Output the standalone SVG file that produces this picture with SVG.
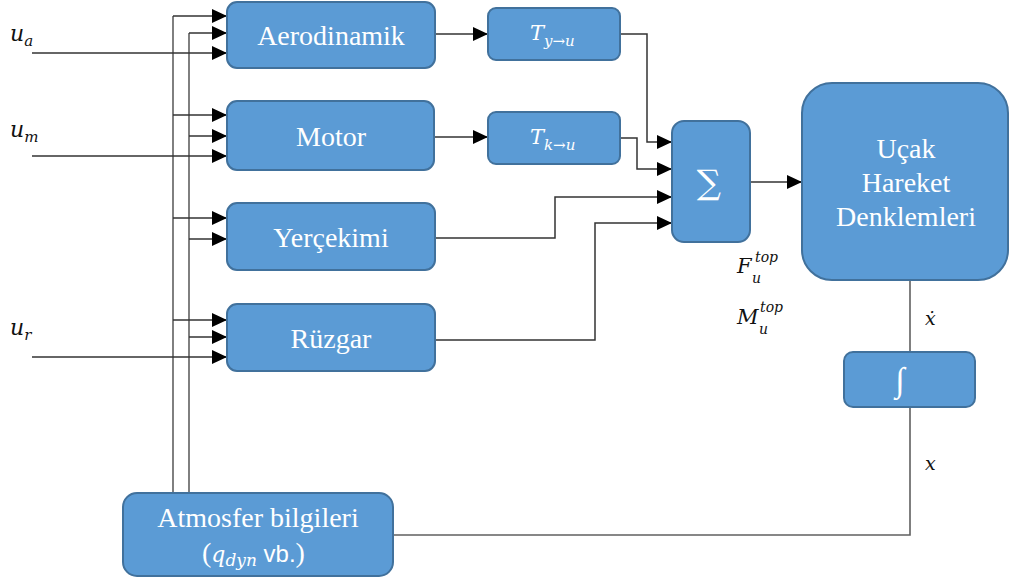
<svg xmlns="http://www.w3.org/2000/svg" width="1009" height="581" viewBox="0 0 1009 581">
<style>
.box{fill:#5B9BD5;stroke:#41719C;stroke-width:2}
.lbl{font-family:"Liberation Serif",serif;font-size:28px;fill:#fff;text-anchor:middle}
.math{font-family:"DejaVu Serif","Liberation Serif",serif;font-style:italic;fill:#111}
.wm{font-family:"DejaVu Serif","Liberation Serif",serif;font-style:italic;fill:#fff}
.ln{fill:none;stroke:#333;stroke-width:1.5}
.gl{fill:none;stroke:#606060;stroke-width:1.6}
</style>
<defs>
<marker id="ah" markerUnits="userSpaceOnUse" markerWidth="15" markerHeight="14" refX="15" refY="7" orient="auto">
<path d="M0,0 L15,7 L0,14 z" fill="#000"/>
</marker>
</defs>
<rect width="1009" height="581" fill="#fff"/>

<g id="connectors">
<path class="gl" d="M173,16 V493"/>
<path class="gl" d="M189,33 V493"/>
<path class="ln" d="M173,16 H227" marker-end="url(#ah)"/>
<path class="ln" d="M189,33 H227" marker-end="url(#ah)"/>
<path class="ln" d="M32,53 H227" marker-end="url(#ah)"/>
<path class="ln" d="M173,115 H227" marker-end="url(#ah)"/>
<path class="ln" d="M189,136 H227" marker-end="url(#ah)"/>
<path class="ln" d="M32,156 H227" marker-end="url(#ah)"/>
<path class="ln" d="M173,218 H227" marker-end="url(#ah)"/>
<path class="ln" d="M189,239 H227" marker-end="url(#ah)"/>
<path class="ln" d="M173,320 H227" marker-end="url(#ah)"/>
<path class="ln" d="M189,337 H227" marker-end="url(#ah)"/>
<path class="ln" d="M32,357 H227" marker-end="url(#ah)"/>
<path class="ln" d="M435,34 H488" marker-end="url(#ah)"/>
<path class="ln" d="M434,137 H488" marker-end="url(#ah)"/>
<path class="ln" d="M620,34 H647 V142 H672" marker-end="url(#ah)"/>
<path class="ln" d="M620,138 H637 V169 H672" marker-end="url(#ah)"/>
<path class="ln" d="M435,238 H555 V197 H672" marker-end="url(#ah)"/>
<path class="ln" d="M435,340 H595 V223 H672" marker-end="url(#ah)"/>
<path class="ln" d="M750,182 H802" marker-end="url(#ah)"/>
<path class="gl" d="M910,280 V352"/>
<path class="gl" d="M910,407 V535 H393"/>
</g>

<g id="aero"><rect class="box" x="227" y="2" width="208" height="66" rx="10"/><text class="lbl" x="331" y="45">Aerodinamik</text></g>
<g id="motor"><rect class="box" x="227" y="101" width="207" height="69" rx="10"/><text class="lbl" x="331" y="146">Motor</text></g>
<g id="yercekimi"><rect class="box" x="227" y="203" width="208" height="67" rx="10"/><text class="lbl" x="331" y="247">Yerçekimi</text></g>
<g id="ruzgar"><rect class="box" x="227" y="304" width="208" height="67" rx="10"/><text class="lbl" x="331" y="348">Rüzgar</text></g>
<g id="ty"><rect class="box" x="488" y="8" width="132" height="52" rx="8"/><text class="wm" x="530" y="40" font-size="21">T<tspan font-size="15" dy="6">y→u</tspan></text></g>
<g id="tk"><rect class="box" x="488" y="112" width="132" height="52" rx="8"/><text class="wm" x="530" y="144" font-size="21">T<tspan font-size="15" dy="6">k→u</tspan></text></g>
<g id="sum"><rect class="box" x="672" y="121" width="78" height="121" rx="12"/><text x="709" y="194" font-family="'DejaVu Serif',serif" font-size="34" fill="#fff" text-anchor="middle">∑</text></g>
<g id="ucak"><rect class="box" x="802" y="83" width="206" height="197" rx="30"/>
<text class="lbl" x="906" y="158">Uçak</text><text class="lbl" x="906" y="192">Hareket</text><text class="lbl" x="906" y="226">Denklemleri</text></g>
<g id="integ"><rect class="box" x="844" y="352" width="131" height="55" rx="9"/><text x="900" y="391" font-family="'Liberation Serif',serif" font-size="34" fill="#fff" text-anchor="middle">∫</text></g>
<g id="atmosfer"><rect class="box" x="123" y="493" width="270" height="83" rx="14"/>
<text class="lbl" x="258" y="527">Atmosfer bilgileri</text>
<text x="202" y="562" font-size="28" fill="#fff" font-family="'Liberation Serif',serif">(<tspan class="wm" font-size="22">q</tspan><tspan class="wm" font-size="17" dy="4">dyn</tspan><tspan font-family="'Liberation Sans',sans-serif" font-size="24" dy="-4"> vb.</tspan>)</text>
</g>

<g id="labels">
<text class="math" x="10" y="41" font-size="22">u<tspan font-size="15" dy="5">a</tspan></text>
<text class="math" x="10" y="137" font-size="22">u<tspan font-size="15" dy="5">m</tspan></text>
<text class="math" x="10" y="335" font-size="22">u<tspan font-size="15" dy="5">r</tspan></text>
<text class="math" x="737" y="273" font-size="21">F</text>
<text class="math" x="755" y="262" font-size="14">top</text>
<text class="math" x="752" y="283" font-size="14">u</text>
<text class="math" x="737" y="324" font-size="21">M</text>
<text class="math" x="760" y="312" font-size="14">top</text>
<text class="math" x="759" y="334" font-size="14">u</text>
<text class="math" x="925" y="325" font-size="19">ẋ</text>
<text class="math" x="925" y="470" font-size="19">x</text>
</g>
</svg>
